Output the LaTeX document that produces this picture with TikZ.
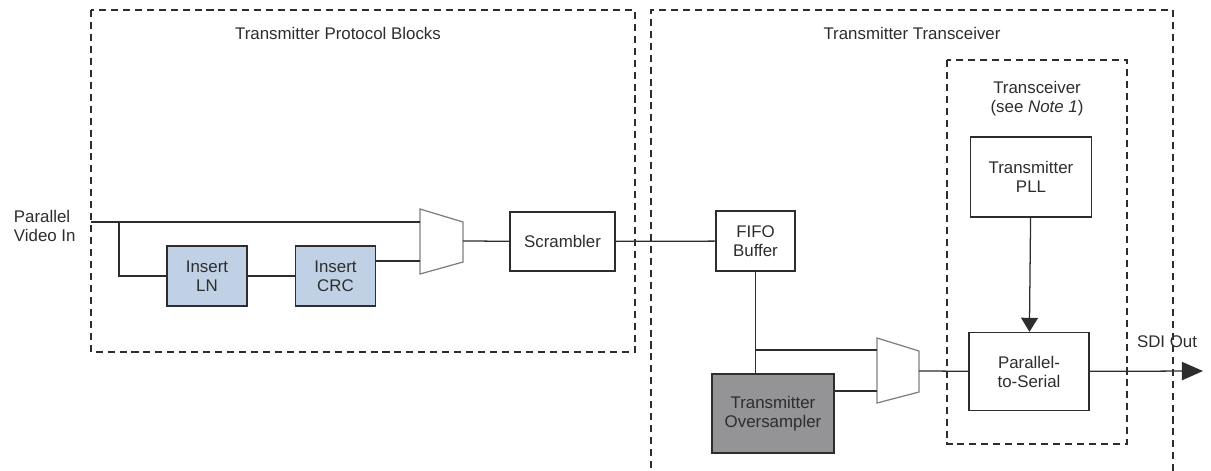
\documentclass[tikz,border=0pt]{standalone}
\usepackage{fontspec}
\setmainfont{Liberation Sans}
\usepackage{xcolor}
\definecolor{boxblue}{RGB}{193, 209, 229}
\definecolor{boxgray}{RGB}{148, 148, 150}
\definecolor{inkgray}{RGB}{45, 45, 45}
\usetikzlibrary{arrows.meta}

\begin{document}
\begin{tikzpicture}[x = 0.025cm, y = -0.025cm, font = \fontsize{12}{13.5}\selectfont, text = inkgray,
	block/.style = {draw = inkgray, line width = 0.9pt, align = center, inner sep = 0pt},
	wire/.style = {draw = inkgray, line width = 0.9pt},
	group/.style = {draw = inkgray, line width = 0.9pt, dash pattern = on 5pt off 3.5pt},
	muxshape/.style = {draw = gray, line width = 0.9pt, fill = white}]
	\useasboundingbox (0, 0) rectangle (1211, 470);
	% dashed groups
	\draw[group] (91, 10) rectangle (635, 352);
	\draw[group] (651, 480) -- (651, 10) -- (1173, 10) -- (1173, 480);
	\draw[group] (947, 60) rectangle (1127, 444);
	\node at (338, 33) {Transmitter Protocol Blocks};
	\node at (912, 33) {Transmitter Transceiver};
	\node[align = center] at (1037, 99) {Transceiver\\(see \textit{Note 1})};
	% blocks
	\node[block, fill = boxblue, minimum width = 2cm, minimum height = 1.5cm] (insln) at (207, 276) {Insert\\LN};
	\node[block, fill = boxblue, minimum width = 2cm, minimum height = 1.5cm] (inscrc) at (335.5, 276) {Insert\\CRC};
	\node[block, minimum width = 2.625cm, minimum height = 1.475cm] (scrambler) at (562.5, 241.5) {Scrambler};
	\node[block, minimum width = 1.975cm, minimum height = 1.5cm] (fifo) at (755.5, 241) {FIFO\\Buffer};
	\node[block, fill = boxgray, minimum width = 3.05cm, minimum height = 1.975cm] (oversampler) at (773, 413.5) {Transmitter\\Oversampler};
	\node[block, minimum width = 3.025cm, minimum height = 2cm] (pll) at (1031, 177) {Transmitter\\PLL};
	\node[block, minimum width = 3cm, minimum height = 1.95cm] (ptos) at (1029, 371.5) {Parallel-\\to-Serial};
	% multiplexers
	\draw[muxshape] (420, 209) -- (463, 222) -- (463, 262) -- (420, 274) -- cycle;
	\coordinate (muxA in1) at (420, 222);
	\coordinate (muxA in2) at (420, 261);
	\coordinate (muxA out) at (463, 241);
	\draw[muxshape] (877, 338) -- (919, 351) -- (919, 392) -- (877, 403) -- cycle;
	\coordinate (muxB in1) at (877, 350);
	\coordinate (muxB in2) at (877, 391);
	\coordinate (muxB out) at (919, 371);
	% input and output
	\node[anchor = west, align = left, font = \fontsize{12}{13}\selectfont] (vidin) at (9, 226) {Parallel\\Video In};
	\coordinate (vin) at (91, 222);
	\coordinate (split) at (119, 222);
	\coordinate (sdi) at (1203, 371);
	\node (sdilabel) at (1167, 342) {SDI Out};
	% connections
	\draw[wire] (vin) -- (muxA in1);
	\draw[wire] (split) |- (insln.west);
	\draw[wire] (insln) -- (inscrc);
	\draw[wire] (inscrc.east |- muxA in2) -- (muxA in2);
	\draw[wire] (muxA out) -- (scrambler);
	\draw[wire] (scrambler) -- (fifo);
	\draw[wire] (fifo.south) -- (fifo.south |- oversampler.north);
	\draw[wire] (fifo.south |- muxB in1) -- (muxB in1);
	\draw[wire] (oversampler.east |- muxB in2) -- (muxB in2);
	\draw[wire] (muxB out) -- (ptos);
	\draw[wire, -{Triangle[length = 10pt, width = 12pt]}] (pll) -- (ptos);
	\draw[wire, -{Triangle[length = 15pt, width = 13pt]}] (ptos) -- (sdi);
\end{tikzpicture}
\end{document}
